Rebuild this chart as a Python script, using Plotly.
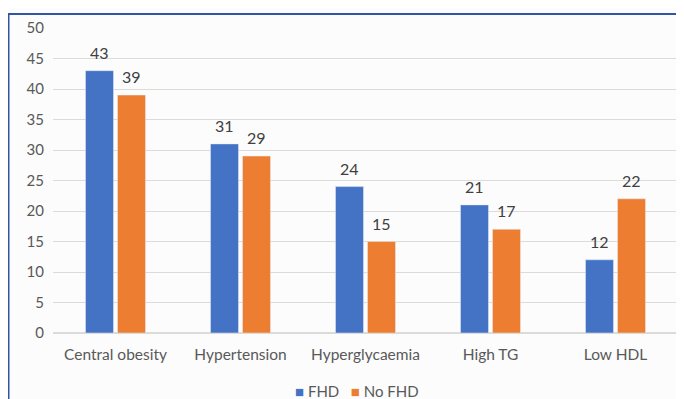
import plotly.graph_objects as go

categories = ["Central obesity", "Hypertension", "Hyperglycaemia", "High TG", "Low HDL"]
fhd = [43, 31, 24, 21, 12]
no_fhd = [39, 29, 15, 17, 22]
series_names = ["FHD", "No FHD"]
y_ticks = [0, 5, 10, 15, 20, 25, 30, 35, 40, 45, 50]

BLUE = "#4472C4"
ORANGE = "#ED7D31"
FONT = "Lato"
TXT = "#595959"

fig = go.Figure()
fig.add_trace(go.Bar(name=series_names[0], x=categories, y=fhd, marker_color=BLUE))
fig.add_trace(go.Bar(name=series_names[1], x=categories, y=no_fhd, marker_color=ORANGE))

for vals, shift in ((fhd, -16), (no_fhd, 16)):
    for c, v in zip(categories, vals):
        fig.add_annotation(x=c, y=v, text=str(v), showarrow=False, xshift=shift,
                           yanchor="bottom", yshift=7,
                           font=dict(family=FONT, size=16, color="#404040"))

legend_text = (f"<span style='color:{BLUE}'>■</span> {series_names[0]}"
               f"&nbsp;&nbsp;&nbsp;<span style='color:{ORANGE}'>■</span> {series_names[1]}")
fig.add_annotation(xref="paper", yref="paper", x=0.487, y=-0.19, xanchor="center",
                   yanchor="middle", showarrow=False, text=legend_text,
                   font=dict(family=FONT, size=15, color=TXT))

fig.add_shape(type="rect", xref="paper", yref="paper",
              x0=-0.0712, x1=1.08, y0=-0.4, y1=1.0459,
              line=dict(color="#2F55A4", width=2), fillcolor="rgba(0,0,0,0)", layer="below")

fig.update_layout(
    width=684, height=399,
    margin=dict(l=45, r=14, t=20, b=74, autoexpand=False),
    paper_bgcolor="#FCFCFC", plot_bgcolor="#FCFCFC",
    barmode="group", bargap=0.488, bargroupgap=0.125,
    font=dict(family=FONT, size=15, color=TXT),
    showlegend=False,
    xaxis=dict(showgrid=False, showline=False, ticks="", ticklabelstandoff=10,
               tickfont=dict(size=15.5, color=TXT)),
    yaxis=dict(range=[0, 50], tickvals=y_ticks, showgrid=True, gridcolor="#DDDBD8",
               gridwidth=1, zeroline=True, zerolinecolor="#DDDBD8", ticks="",
               tickfont=dict(size=15, color=TXT), ticklabelstandoff=8),
)

fig.write_html("out.html")
